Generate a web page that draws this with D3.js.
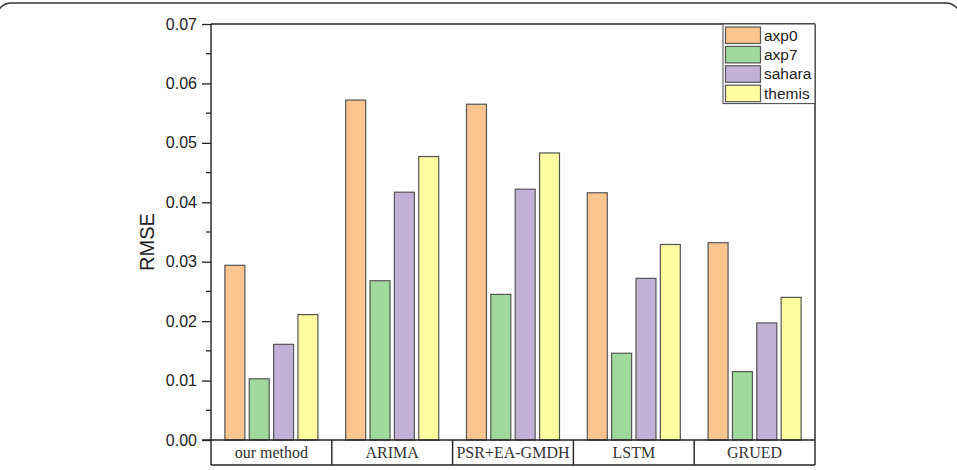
<!DOCTYPE html>
<html>
<head>
<meta charset="utf-8">
<script src="https://cdn.jsdelivr.net/npm/d3@7"></script>
<style>
  body { margin: 0; background: #fff; }
  svg { display: block; }
  .axis text { font-family: Arial, "Liberation Sans", sans-serif; font-size: 16px; fill: #222; }
  .axis path, .axis line { stroke: #222; stroke-width: 1.3; }
</style>
</head>
<body>
<div id="chart"></div>
<script>
// data
const methods = ["our method", "ARIMA", "PSR+EA-GMDH", "LSTM", "GRUED"];
const datasets = ["axp0", "axp7", "sahara", "themis"];
const axp0 = [0.0294, 0.0572, 0.0565, 0.0416, 0.0332];
const axp7 = [0.0103, 0.0268, 0.0245, 0.0146, 0.0115];
const sahara = [0.0161, 0.0417, 0.0422, 0.0272, 0.0197];
const themis = [0.0211, 0.0477, 0.0483, 0.0329, 0.0240];
const yTicks = [0, 0.01, 0.02, 0.03, 0.04, 0.05, 0.06, 0.07];

const series = { axp0: axp0, axp7: axp7, sahara: sahara, themis: themis };
const data = methods.map(function(m, i) {
    return { method: m, values: datasets.map(function(k) { return { key: k, value: series[k][i] }; }) };
});

const width = 957;
const height = 470;
const margin = {top: 24, left: 211, right: 142, bottom: 30};

const svg = d3.select("#chart")
    .append("svg")
    .attr("width", width)
    .attr("height", height);

// outer figure frame (only the top edge is inside the picture)
svg.append("rect")
    .attr("x", -3).attr("y", 3)
    .attr("width", width + 6).attr("height", 600)
    .attr("rx", 14)
    .attr("fill", "none")
    .attr("stroke", "#333")
    .attr("stroke-width", 1.4);

const x0 = d3.scaleBand()
    .domain(methods)
    .range([margin.left, width - margin.right])
    .paddingInner(0.23)
    .paddingOuter(0.115);

const x1 = d3.scaleBand()
    .domain(datasets)
    .range([0, x0.bandwidth()])
    .paddingInner(0.18);

const yScale = d3.scaleLinear()
    .domain([0, 0.07])
    .range([height - margin.bottom, margin.top]);

const color = d3.scaleOrdinal()
    .domain(datasets)
    .range(["#fcc590", "#9fd99b", "#c1b1d7", "#fffd9f"]);

const plotBottom = yScale(0);
const tableBottom = 465;

// bars
svg.append("g")
    .selectAll("g")
    .data(data)
    .join("g")
        .attr("transform", function(d) { return `translate(${x0(d.method)},0)`; })
    .selectAll("rect")
    .data(function(d) { return d.values; })
    .join("rect")
        .attr("x", function(d) { return x1(d.key); })
        .attr("y", function(d) { return yScale(d.value); })
        .attr("width", x1.bandwidth())
        .attr("height", function(d) { return plotBottom - yScale(d.value); })
        .attr("fill", function(d) { return color(d.key); })
        .attr("stroke", "#555")
        .attr("stroke-width", 1.2);

// y axis with minor ticks
const yAxis = svg.append("g")
    .attr("class", "axis")
    .attr("transform", `translate(${margin.left},0)`)
    .call(d3.axisLeft(yScale).tickValues(yTicks).tickFormat(d3.format(".2f")).tickSize(9).tickPadding(5).tickSizeOuter(0));
yAxis.select(".domain").remove();

const minor = d3.range(0.005, 0.07, 0.01);
svg.append("g")
    .selectAll("line")
    .data(minor)
    .join("line")
        .attr("x1", margin.left - 5)
        .attr("x2", margin.left)
        .attr("y1", function(d) { return yScale(d); })
        .attr("y2", function(d) { return yScale(d); })
        .attr("stroke", "#222")
        .attr("stroke-width", 1.3);

// frame lines
const frame = svg.append("g").attr("stroke", "#222").attr("stroke-width", 1.4).attr("fill", "none");
frame.append("line").attr("x1", margin.left).attr("x2", width - margin.right).attr("y1", margin.top).attr("y2", margin.top);
frame.append("line").attr("x1", margin.left).attr("x2", margin.left).attr("y1", margin.top).attr("y2", tableBottom);
frame.append("line").attr("x1", width - margin.right).attr("x2", width - margin.right).attr("y1", margin.top).attr("y2", tableBottom);
frame.append("line").attr("x1", margin.left - 9).attr("x2", width - margin.right).attr("y1", plotBottom).attr("y2", plotBottom);
frame.append("line").attr("x1", margin.left).attr("x2", width - margin.right).attr("y1", tableBottom).attr("y2", tableBottom);

// category table below the axis
const step = x0.step();
frame.selectAll(".sep")
    .data(methods.slice(1))
    .join("line")
        .attr("class", "sep")
        .attr("x1", function(d) { return x0(d) - x0.paddingInner() * step / 2; })
        .attr("x2", function(d) { return x0(d) - x0.paddingInner() * step / 2; })
        .attr("y1", plotBottom)
        .attr("y2", tableBottom);

svg.append("g")
    .selectAll("text")
    .data(methods)
    .join("text")
        .attr("x", function(d) { return x0(d) + x0.bandwidth() / 2; })
        .attr("y", (plotBottom + tableBottom) / 2 + 5.5)
        .attr("text-anchor", "middle")
        .attr("font-family", "'Liberation Serif', 'Times New Roman', serif")
        .attr("font-size", 16)
        .attr("fill", "#333")
        .text(function(d) { return d; });

// y label
svg.append("text")
    .attr("transform", `translate(154, ${(margin.top + plotBottom) / 2 + 10}) rotate(-90)`)
    .attr("text-anchor", "middle")
    .attr("font-family", "Arial, 'Liberation Sans', sans-serif")
    .attr("font-size", 20)
    .attr("fill", "#222")
    .text("RMSE");

// legend
const legendX = 723;
const legendW = width - margin.right - legendX;
const rowH = 19.4;
const legend = svg.append("g");
legend.append("rect")
    .attr("x", legendX)
    .attr("y", margin.top)
    .attr("width", legendW)
    .attr("height", rowH * datasets.length + 2)
    .attr("fill", "#fff")
    .attr("stroke", "#444")
    .attr("stroke-width", 1);

datasets.forEach(function(k, i) {
    legend.append("rect")
        .attr("x", legendX + 2.5)
        .attr("y", margin.top + 3 + i * rowH)
        .attr("width", 35)
        .attr("height", 16.5)
        .attr("fill", color(k))
        .attr("stroke", "#555")
        .attr("stroke-width", 1.2);
    legend.append("text")
        .attr("x", legendX + 41)
        .attr("y", margin.top + 3 + i * rowH + 13.5)
        .attr("font-family", "Arial, 'Liberation Sans', sans-serif")
        .attr("font-size", 15.5)
        .attr("fill", "#222")
        .text(k);
});
</script>
</body>
</html>
